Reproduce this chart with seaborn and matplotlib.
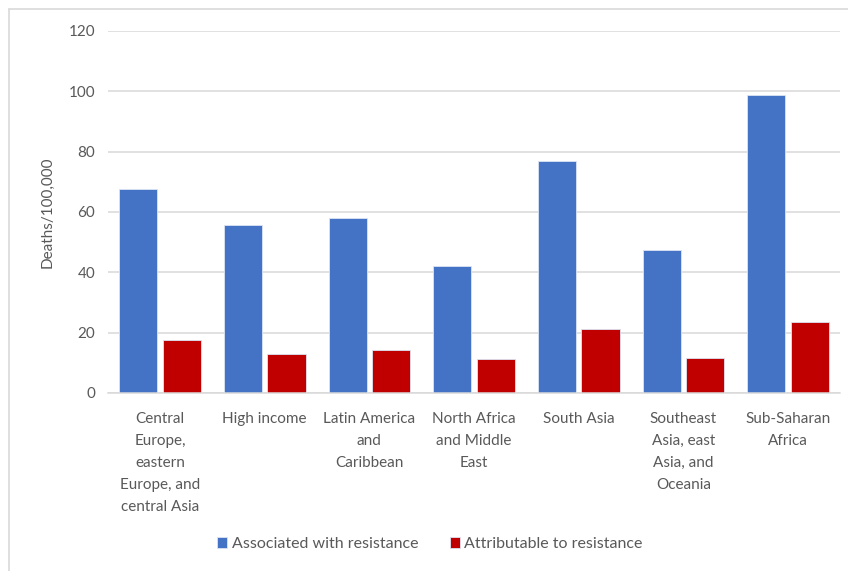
import matplotlib
matplotlib.use("Agg")
import matplotlib.pyplot as plt
from matplotlib.lines import Line2D
import seaborn as sns
import pandas as pd

regions = [
    "Central\nEurope,\neastern\nEurope, and\ncentral Asia",
    "High income",
    "Latin America\nand\nCaribbean",
    "North Africa\nand Middle\nEast",
    "South Asia",
    "Southeast\nAsia, east\nAsia, and\nOceania",
    "Sub-Saharan\nAfrica",
]
associated = [67.5, 55.5, 57.8, 42.0, 76.7, 47.2, 98.8]
attributable = [17.5, 12.9, 14.3, 11.2, 21.2, 11.5, 23.5]
series_names = ["Associated with resistance", "Attributable to resistance"]
y_ticks = [0, 20, 40, 60, 80, 100, 120]

df = pd.DataFrame({
    "region": regions * 2,
    "value": associated + attributable,
    "series": [series_names[0]] * len(regions) + [series_names[1]] * len(regions),
})

sns.set_theme(style="white")
plt.rcParams["font.family"] = ["Lato", "DejaVu Sans"]
text_color = "#595959"

fig = plt.figure(figsize=(8.48, 5.71), dpi=100)
ax = fig.add_axes([0.127, 0.312, 0.864, 0.634])

sns.barplot(
    data=df, x="region", y="value", hue="series",
    palette=["#4472C4", "#C00000"], saturation=1, width=0.83, gap=0.12,
    edgecolor="#DCE4F5", linewidth=0.6, ax=ax, legend=True,
)

ax.set_ylim(0, 120)
ax.set_yticks(y_ticks)
ax.yaxis.grid(True, color="#D9D9D9", linewidth=1.1)
ax.set_axisbelow(True)
for side in ["top", "right", "left"]:
    ax.spines[side].set_visible(False)
ax.spines["bottom"].set_color("#D9D9D9")
ax.spines["bottom"].set_linewidth(1.1)
ax.set_xlim(-0.5, len(regions) - 0.5)

ax.tick_params(axis="both", length=0, labelsize=11, colors=text_color)
ax.tick_params(axis="x", pad=14)
ax.tick_params(axis="y", pad=9)
for lbl in ax.get_xticklabels():
    lbl.set_linespacing(1.72)
    lbl.set_verticalalignment("top")
ax.set_xlabel("")
ax.set_ylabel("Deaths/100,000", fontsize=11, color=text_color, labelpad=10)

handles, labels = ax.get_legend_handles_labels()
ax.legend(
    handles, labels, loc="center", bbox_to_anchor=(0.507, 0.047),
    bbox_transform=fig.transFigure, ncol=2, frameon=False,
    fontsize=11.5, labelcolor=text_color, handlelength=0.6, handleheight=0.6,
    handletextpad=0.3, columnspacing=2.0,
)

# thin frame around the chart area (left and top edges)
fig.add_artist(Line2D([0.0106, 0.0106], [0.0, 0.984], color="#D9D9D9", linewidth=1.2, transform=fig.transFigure))
fig.add_artist(Line2D([0.0106, 1.0], [0.984, 0.984], color="#D9D9D9", linewidth=1.2, transform=fig.transFigure))

fig.savefig("out.png", dpi=100)
